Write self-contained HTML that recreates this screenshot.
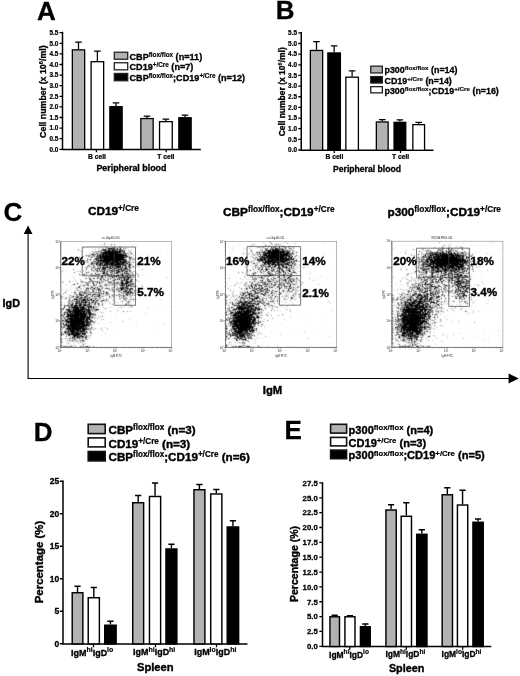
<!DOCTYPE html>
<html><head><meta charset="utf-8"><title>Figure</title>
<style>
html,body{margin:0;padding:0;background:#fff;}
svg{display:block;}
svg text{font-family:"Liberation Sans", sans-serif;font-weight:bold;fill:#000;stroke:#000;stroke-width:0.035em;}
svg tspan{stroke-width:0.035em;}
svg tspan.sp{stroke-width:0.028em;}
svg text.big{stroke-width:0.3px;}
</style></head><body>
<svg width="520" height="676" viewBox="0 0 520 676">
<defs><radialGradient id="gc"><stop offset="0.0" stop-color="#000" stop-opacity="0.96"/><stop offset="0.08" stop-color="#000" stop-opacity="0.93"/><stop offset="0.17" stop-color="#000" stop-opacity="0.846"/><stop offset="0.25" stop-color="#000" stop-opacity="0.722"/><stop offset="0.33" stop-color="#000" stop-opacity="0.578"/><stop offset="0.42" stop-color="#000" stop-opacity="0.434"/><stop offset="0.5" stop-color="#000" stop-opacity="0.304"/><stop offset="0.58" stop-color="#000" stop-opacity="0.199"/><stop offset="0.67" stop-color="#000" stop-opacity="0.121"/><stop offset="0.75" stop-color="#000" stop-opacity="0.066"/><stop offset="0.83" stop-color="#000" stop-opacity="0.032"/><stop offset="0.92" stop-color="#000" stop-opacity="0.011"/><stop offset="1.0" stop-color="#000" stop-opacity="0.0"/></radialGradient><radialGradient id="gd"><stop offset="0.0" stop-color="#000" stop-opacity="0.86"/><stop offset="0.08" stop-color="#000" stop-opacity="0.833"/><stop offset="0.17" stop-color="#000" stop-opacity="0.758"/><stop offset="0.25" stop-color="#000" stop-opacity="0.647"/><stop offset="0.33" stop-color="#000" stop-opacity="0.518"/><stop offset="0.42" stop-color="#000" stop-opacity="0.388"/><stop offset="0.5" stop-color="#000" stop-opacity="0.273"/><stop offset="0.58" stop-color="#000" stop-opacity="0.178"/><stop offset="0.67" stop-color="#000" stop-opacity="0.108"/><stop offset="0.75" stop-color="#000" stop-opacity="0.06"/><stop offset="0.83" stop-color="#000" stop-opacity="0.029"/><stop offset="0.92" stop-color="#000" stop-opacity="0.01"/><stop offset="1.0" stop-color="#000" stop-opacity="0.0"/></radialGradient><radialGradient id="gh"><stop offset="0.0" stop-color="#000" stop-opacity="0.5"/><stop offset="0.08" stop-color="#000" stop-opacity="0.484"/><stop offset="0.17" stop-color="#000" stop-opacity="0.441"/><stop offset="0.25" stop-color="#000" stop-opacity="0.376"/><stop offset="0.33" stop-color="#000" stop-opacity="0.301"/><stop offset="0.42" stop-color="#000" stop-opacity="0.226"/><stop offset="0.5" stop-color="#000" stop-opacity="0.159"/><stop offset="0.58" stop-color="#000" stop-opacity="0.104"/><stop offset="0.67" stop-color="#000" stop-opacity="0.063"/><stop offset="0.75" stop-color="#000" stop-opacity="0.035"/><stop offset="0.83" stop-color="#000" stop-opacity="0.017"/><stop offset="0.92" stop-color="#000" stop-opacity="0.006"/><stop offset="1.0" stop-color="#000" stop-opacity="0.0"/></radialGradient><radialGradient id="gs"><stop offset="0.0" stop-color="#000" stop-opacity="0.31"/><stop offset="0.08" stop-color="#000" stop-opacity="0.3"/><stop offset="0.17" stop-color="#000" stop-opacity="0.273"/><stop offset="0.25" stop-color="#000" stop-opacity="0.233"/><stop offset="0.33" stop-color="#000" stop-opacity="0.187"/><stop offset="0.42" stop-color="#000" stop-opacity="0.14"/><stop offset="0.5" stop-color="#000" stop-opacity="0.098"/><stop offset="0.58" stop-color="#000" stop-opacity="0.064"/><stop offset="0.67" stop-color="#000" stop-opacity="0.039"/><stop offset="0.75" stop-color="#000" stop-opacity="0.021"/><stop offset="0.83" stop-color="#000" stop-opacity="0.01"/><stop offset="0.92" stop-color="#000" stop-opacity="0.004"/><stop offset="1.0" stop-color="#000" stop-opacity="0.0"/></radialGradient><radialGradient id="gw"><stop offset="0.0" stop-color="#000" stop-opacity="0.95"/><stop offset="0.08" stop-color="#000" stop-opacity="0.92"/><stop offset="0.17" stop-color="#000" stop-opacity="0.837"/><stop offset="0.25" stop-color="#000" stop-opacity="0.714"/><stop offset="0.33" stop-color="#000" stop-opacity="0.572"/><stop offset="0.42" stop-color="#000" stop-opacity="0.429"/><stop offset="0.5" stop-color="#000" stop-opacity="0.301"/><stop offset="0.58" stop-color="#000" stop-opacity="0.197"/><stop offset="0.67" stop-color="#000" stop-opacity="0.119"/><stop offset="0.75" stop-color="#000" stop-opacity="0.066"/><stop offset="0.83" stop-color="#000" stop-opacity="0.032"/><stop offset="0.92" stop-color="#000" stop-opacity="0.011"/><stop offset="1.0" stop-color="#000" stop-opacity="0.0"/></radialGradient><radialGradient id="gb"><stop offset="0.0" stop-color="#000" stop-opacity="0.14"/><stop offset="0.08" stop-color="#000" stop-opacity="0.136"/><stop offset="0.17" stop-color="#000" stop-opacity="0.123"/><stop offset="0.25" stop-color="#000" stop-opacity="0.105"/><stop offset="0.33" stop-color="#000" stop-opacity="0.084"/><stop offset="0.42" stop-color="#000" stop-opacity="0.063"/><stop offset="0.5" stop-color="#000" stop-opacity="0.044"/><stop offset="0.58" stop-color="#000" stop-opacity="0.029"/><stop offset="0.67" stop-color="#000" stop-opacity="0.018"/><stop offset="0.75" stop-color="#000" stop-opacity="0.01"/><stop offset="0.83" stop-color="#000" stop-opacity="0.005"/><stop offset="0.92" stop-color="#000" stop-opacity="0.002"/><stop offset="1.0" stop-color="#000" stop-opacity="0.0"/></radialGradient><filter id="dt1" filterUnits="userSpaceOnUse" x="60.55" y="241.05" width="110.90" height="106.10" color-interpolation-filters="sRGB"><feTurbulence type="fractalNoise" baseFrequency="2" numOctaves="1" seed="7" result="n"/><feColorMatrix in="n" type="matrix" values="0 0 0 0 0  0 0 0 0 0  0 0 0 0 0  1 0 0 0 0" result="na"/><feComposite in="SourceGraphic" in2="na" operator="arithmetic" k1="0" k2="1" k3="1" k4="-1" result="c"/><feComponentTransfer in="c"><feFuncA type="linear" slope="5" intercept="0"/></feComponentTransfer><feConvolveMatrix order="3" kernelMatrix="0.0277 0.1110 0.0277 0.1110 0.4452 0.1110 0.0277 0.1110 0.0277" divisor="1" edgeMode="none" preserveAlpha="false"/></filter><filter id="dt2" filterUnits="userSpaceOnUse" x="225.25" y="241.15" width="111.20" height="106.00" color-interpolation-filters="sRGB"><feTurbulence type="fractalNoise" baseFrequency="2" numOctaves="1" seed="12" result="n"/><feColorMatrix in="n" type="matrix" values="0 0 0 0 0  0 0 0 0 0  0 0 0 0 0  1 0 0 0 0" result="na"/><feComposite in="SourceGraphic" in2="na" operator="arithmetic" k1="0" k2="1" k3="1" k4="-1" result="c"/><feComponentTransfer in="c"><feFuncA type="linear" slope="5" intercept="0"/></feComponentTransfer><feConvolveMatrix order="3" kernelMatrix="0.0277 0.1110 0.0277 0.1110 0.4452 0.1110 0.0277 0.1110 0.0277" divisor="1" edgeMode="none" preserveAlpha="false"/></filter><filter id="dt3" filterUnits="userSpaceOnUse" x="391.65" y="240.95" width="111.00" height="106.20" color-interpolation-filters="sRGB"><feTurbulence type="fractalNoise" baseFrequency="2" numOctaves="1" seed="17" result="n"/><feColorMatrix in="n" type="matrix" values="0 0 0 0 0  0 0 0 0 0  0 0 0 0 0  1 0 0 0 0" result="na"/><feComposite in="SourceGraphic" in2="na" operator="arithmetic" k1="0" k2="1" k3="1" k4="-1" result="c"/><feComponentTransfer in="c"><feFuncA type="linear" slope="5" intercept="0"/></feComponentTransfer><feConvolveMatrix order="3" kernelMatrix="0.0277 0.1110 0.0277 0.1110 0.4452 0.1110 0.0277 0.1110 0.0277" divisor="1" edgeMode="none" preserveAlpha="false"/></filter></defs>
<rect width="520" height="676" fill="#fff"/>
<text x="37.1" y="19.6" font-size="26" text-anchor="start" class="big">A</text>
<path d="M62.5 31.85V149.40H200.8" stroke="#000" stroke-width="1.5" fill="none" stroke-linejoin="miter"/>
<path d="M59.5 149.30H62.5M59.5 138.70H62.5M59.5 128.10H62.5M59.5 117.50H62.5M59.5 106.90H62.5M59.5 96.30H62.5M59.5 85.70H62.5M59.5 75.10H62.5M59.5 64.50H62.5M59.5 53.90H62.5M59.5 43.30H62.5M59.5 32.70H62.5M96.4 149.4V152.20000000000002M166.2 149.4V152.20000000000002" stroke="#000" stroke-width="1.27" fill="none"/>
<text x="58.3" y="151.6" font-size="6.4" text-anchor="end" >0.0</text>
<text x="58.3" y="141.0" font-size="6.4" text-anchor="end" >0.5</text>
<text x="58.3" y="130.4" font-size="6.4" text-anchor="end" >1.0</text>
<text x="58.3" y="119.8" font-size="6.4" text-anchor="end" >1.5</text>
<text x="58.3" y="109.2" font-size="6.4" text-anchor="end" >2.0</text>
<text x="58.3" y="98.6" font-size="6.4" text-anchor="end" >2.5</text>
<text x="58.3" y="88.0" font-size="6.4" text-anchor="end" >3.0</text>
<text x="58.3" y="77.4" font-size="6.4" text-anchor="end" >3.5</text>
<text x="58.3" y="66.8" font-size="6.4" text-anchor="end" >4.0</text>
<text x="58.3" y="56.2" font-size="6.4" text-anchor="end" >4.5</text>
<text x="58.3" y="45.6" font-size="6.4" text-anchor="end" >5.0</text>
<text x="58.3" y="35.0" font-size="6.4" text-anchor="end" >5.5</text>
<path d="M78.50 49.20V42.05M75.20 42.05H81.80" stroke="#000" stroke-width="1.25" fill="none"/>
<rect x="72.35" y="49.85" width="12.30" height="99.55" fill="#b2b2b2" stroke="#000" stroke-width="1.3"/>
<path d="M97.38 61.05V51.05M94.08 51.05H100.67" stroke="#000" stroke-width="1.25" fill="none"/>
<rect x="91.10" y="61.70" width="12.55" height="87.70" fill="#fff" stroke="#000" stroke-width="1.3"/>
<path d="M116.00 106.05V102.80M112.70 102.80H119.30" stroke="#000" stroke-width="1.25" fill="none"/>
<rect x="109.85" y="106.70" width="12.30" height="42.70" fill="#000" stroke="#000" stroke-width="1.3"/>
<path d="M147.00 117.90V116.10M143.70 116.10H150.30" stroke="#000" stroke-width="1.25" fill="none"/>
<rect x="140.85" y="118.55" width="12.30" height="30.85" fill="#b2b2b2" stroke="#000" stroke-width="1.3"/>
<path d="M165.90 121.00V119.10M162.60 119.10H169.20" stroke="#000" stroke-width="1.25" fill="none"/>
<rect x="159.55" y="121.65" width="12.70" height="27.75" fill="#fff" stroke="#000" stroke-width="1.3"/>
<path d="M185.00 117.10V115.00M181.70 115.00H188.30" stroke="#000" stroke-width="1.25" fill="none"/>
<rect x="178.85" y="117.75" width="12.30" height="31.65" fill="#000" stroke="#000" stroke-width="1.3"/>
<text x="97" y="158.9" font-size="6.7" text-anchor="middle" >B cell</text>
<text x="165.9" y="158.9" font-size="6.7" text-anchor="middle" >T cell</text>
<text x="131.4" y="171.3" font-size="8.9" text-anchor="middle" >Peripheral blood</text>
<text transform="translate(46.4 91.6) rotate(-90)" text-anchor="middle" font-size="8.85"><tspan dy="0.00" font-size="8.85">Cell number (x 10</tspan><tspan class="sp" dy="-2.92" font-size="5.75">6</tspan><tspan dy="2.92" font-size="8.85">/ml)</tspan></text>
<rect x="114.3" y="52.25" width="13.4" height="7.00" fill="#b2b2b2" stroke="#222" stroke-width="1.3"/>
<rect x="114.3" y="62.75" width="13.4" height="7.10" fill="#fff" stroke="#222" stroke-width="1.3"/>
<rect x="114.3" y="73.45" width="13.4" height="7.30" fill="#000" stroke="#222" stroke-width="1.3"/>
<text x="129.5" y="59.6"><tspan dy="0.00" font-size="9.1">CBP</tspan><tspan class="sp" dy="-3.00" font-size="6.37">flox/flox</tspan><tspan dy="3.00" font-size="9.1"> (n=11)</tspan></text>
<text x="129.5" y="70.3"><tspan dy="0.00" font-size="9.1">CD19</tspan><tspan class="sp" dy="-3.00" font-size="6.37">+/Cre</tspan><tspan dy="3.00" font-size="9.1"> (n=7)</tspan></text>
<text x="129.5" y="80.6"><tspan dy="0.00" font-size="9.1">CBP</tspan><tspan class="sp" dy="-3.00" font-size="6.37">flox/flox</tspan><tspan dy="3.00" font-size="9.1">;CD19</tspan><tspan class="sp" dy="-3.00" font-size="6.37">+/Cre</tspan><tspan dy="3.00" font-size="9.1"> (n=12)</tspan></text>
<text x="275.7" y="18.6" font-size="26" text-anchor="start" class="big">B</text>
<path d="M301.25 32.05V150.30H433.5" stroke="#000" stroke-width="1.5" fill="none" stroke-linejoin="miter"/>
<path d="M298.25 150.00H301.25M298.25 139.35H301.25M298.25 128.70H301.25M298.25 118.05H301.25M298.25 107.40H301.25M298.25 96.75H301.25M298.25 86.10H301.25M298.25 75.45H301.25M298.25 64.80H301.25M298.25 54.15H301.25M298.25 43.50H301.25M298.25 32.85H301.25M334.25 150.3V153.10000000000002M400.5 150.3V153.10000000000002" stroke="#000" stroke-width="1.27" fill="none"/>
<text x="297" y="152.3" font-size="6.4" text-anchor="end" >0.0</text>
<text x="297" y="141.65" font-size="6.4" text-anchor="end" >0.5</text>
<text x="297" y="131.0" font-size="6.4" text-anchor="end" >1.0</text>
<text x="297" y="120.35" font-size="6.4" text-anchor="end" >1.5</text>
<text x="297" y="109.7" font-size="6.4" text-anchor="end" >2.0</text>
<text x="297" y="99.05" font-size="6.4" text-anchor="end" >2.5</text>
<text x="297" y="88.4" font-size="6.4" text-anchor="end" >3.0</text>
<text x="297" y="77.75" font-size="6.4" text-anchor="end" >3.5</text>
<text x="297" y="67.1" font-size="6.4" text-anchor="end" >4.0</text>
<text x="297" y="56.45" font-size="6.4" text-anchor="end" >4.5</text>
<text x="297" y="45.8" font-size="6.4" text-anchor="end" >5.0</text>
<text x="297" y="35.15" font-size="6.4" text-anchor="end" >5.5</text>
<path d="M316.50 49.80V41.55M313.20 41.55H319.80" stroke="#000" stroke-width="1.25" fill="none"/>
<rect x="310.35" y="50.45" width="12.30" height="99.85" fill="#b2b2b2" stroke="#000" stroke-width="1.3"/>
<path d="M334.12 52.30V45.80M330.82 45.80H337.43" stroke="#000" stroke-width="1.25" fill="none"/>
<rect x="327.85" y="52.95" width="12.55" height="97.35" fill="#000" stroke="#000" stroke-width="1.3"/>
<path d="M352.12 76.55V70.80M348.82 70.80H355.43" stroke="#000" stroke-width="1.25" fill="none"/>
<rect x="345.85" y="77.20" width="12.55" height="73.10" fill="#fff" stroke="#000" stroke-width="1.3"/>
<path d="M382.25 121.30V119.60M378.95 119.60H385.55" stroke="#000" stroke-width="1.25" fill="none"/>
<rect x="376.35" y="121.95" width="11.80" height="28.35" fill="#b2b2b2" stroke="#000" stroke-width="1.3"/>
<path d="M399.90 121.70V119.90M396.60 119.90H403.20" stroke="#000" stroke-width="1.25" fill="none"/>
<rect x="394.05" y="122.35" width="11.70" height="27.95" fill="#000" stroke="#000" stroke-width="1.3"/>
<path d="M418.70 124.00V122.30M415.40 122.30H422.00" stroke="#000" stroke-width="1.25" fill="none"/>
<rect x="412.85" y="124.65" width="11.70" height="25.65" fill="#fff" stroke="#000" stroke-width="1.3"/>
<text x="334.4" y="159.2" font-size="6.7" text-anchor="middle" >B cell</text>
<text x="400.6" y="158.9" font-size="6.7" text-anchor="middle" >T cell</text>
<text x="367" y="171.75" font-size="8.6" text-anchor="middle" >Peripheral blood</text>
<text transform="translate(285.2 91.75) rotate(-90)" text-anchor="middle" font-size="8.5"><tspan dy="0.00" font-size="8.5">Cell number (x 10</tspan><tspan class="sp" dy="-2.81" font-size="5.53">6</tspan><tspan dy="2.81" font-size="8.5">/ml)</tspan></text>
<rect x="370.75" y="66.15" width="11.6" height="6.80" fill="#b2b2b2" stroke="#222" stroke-width="1.3"/>
<rect x="370.75" y="76.55000000000001" width="11.6" height="6.50" fill="#000" stroke="#222" stroke-width="1.3"/>
<rect x="370.75" y="86.65" width="11.6" height="6.20" fill="#fff" stroke="#222" stroke-width="1.3"/>
<text x="384.5" y="73.2"><tspan dy="0.00" font-size="8.9">p300</tspan><tspan class="sp" dy="-2.94" font-size="6.23">flox/flox</tspan><tspan dy="2.94" font-size="8.9"> (n=14)</tspan></text>
<text x="384.5" y="83.8"><tspan dy="0.00" font-size="8.9">CD19</tspan><tspan class="sp" dy="-2.94" font-size="6.23">+/Cre</tspan><tspan dy="2.94" font-size="8.9"> (n=14)</tspan></text>
<text x="384.5" y="93.6"><tspan dy="0.00" font-size="8.9">p300</tspan><tspan class="sp" dy="-2.94" font-size="6.23">flox/flox</tspan><tspan dy="2.94" font-size="8.9">;CD19</tspan><tspan class="sp" dy="-2.94" font-size="6.23">+/Cre</tspan><tspan dy="2.94" font-size="8.9"> (n=16)</tspan></text>
<text x="3.5" y="220.7" font-size="26" text-anchor="start" class="big">C</text>
<path d="M28.1 233V378.5H509.5" stroke="#000" stroke-width="1.1" fill="none"/>
<path d="M28.1 225.6L32.5 234H23.7Z" fill="#000"/>
<path d="M518.8 378.6L508.6 373.6V383.6Z" fill="#000"/>
<text x="2.6" y="306.5" font-size="10.8" text-anchor="start" >IgD</text>
<text x="262.8" y="393.75" font-size="11.3" text-anchor="start" >IgM</text>
<text x="113.4" y="215" text-anchor="middle"><tspan dy="0.00" font-size="11.8">CD19</tspan><tspan class="sp" dy="-3.60" font-size="8.26">+/Cre</tspan></text>
<text x="278.8" y="215.6" text-anchor="middle"><tspan dy="0.00" font-size="11.8">CBP</tspan><tspan class="sp" dy="-3.60" font-size="8.26">flox/flox</tspan><tspan dy="3.60" font-size="11.8">;CD19</tspan><tspan class="sp" dy="-3.60" font-size="8.26">+/Cre</tspan></text>
<text x="444.2" y="215.6" text-anchor="middle"><tspan dy="0.00" font-size="11.8">p300</tspan><tspan class="sp" dy="-3.60" font-size="8.26">flox/flox</tspan><tspan dy="3.60" font-size="11.8">;CD19</tspan><tspan class="sp" dy="-3.60" font-size="8.26">+/Cre</tspan></text>
<g transform="translate(.25 .25)"><g filter="url(#dt1)"><g transform="translate(-.25 -.25)">
<rect x="60.8" y="241.3" width="110.90" height="106.10" fill="#000" fill-opacity="0.2"/>
<ellipse cx="100" cy="292" rx="102.0" ry="90.0" fill="url(#gb)"/>
<ellipse cx="112" cy="257" rx="27.0" ry="16.5" fill="url(#gc)"/>
<ellipse cx="110" cy="260" rx="51.0" ry="30.0" fill="url(#gh)"/>
<ellipse cx="127" cy="284" rx="21.0" ry="42.0" fill="url(#gh)" transform="rotate(-8 127 284)"/>
<ellipse cx="77" cy="322.5" rx="22.5" ry="34.5" fill="url(#gd)" transform="rotate(8 77 322.5)"/>
<ellipse cx="78.5" cy="318.5" rx="37.5" ry="52.5" fill="url(#gh)" transform="rotate(10 78.5 318.5)"/>
<ellipse cx="98" cy="289" rx="54.0" ry="42.0" fill="url(#gs)" transform="rotate(-35 98 289)"/>
<rect x="60.8" y="295" width="1.2" height="52" fill="#000" fill-opacity="0.35"/>
<rect x="60.8" y="346.1" width="35" height="1.3" fill="#000" fill-opacity="0.35"/>
</g></g></g>
<rect x="60.8" y="241.3" width="110.90" height="106.10" fill="none" stroke="#8a8a8a" stroke-width="0.6"/>
<path d="M82.2 247H135.5V305.3H114.2V247M82.2 247V275.8H135.5" fill="none" stroke="#444" stroke-width="0.7"/>
<text x="61.4" y="265.0" font-size="11.7" text-anchor="start" >22%</text>
<text x="137.3" y="265.0" font-size="11.7" text-anchor="start" >21%</text>
<text x="137.3" y="296.4" font-size="11.7" text-anchor="start" >5.7%</text>
<g style="font-weight:normal" fill="#555">
<text x="110.7" y="239.3" font-size="2.6" text-anchor="middle" style="font-weight:normal;fill:#222;stroke:none">sr+14igd05.010</text>
<text x="116.2" y="356.6" font-size="2.8" text-anchor="middle" style="font-weight:normal;fill:#222;stroke:none">IgM FITC</text>
<text transform="translate(54.3 294.4) rotate(-90)" text-anchor="middle" font-size="2.6" style="font-weight:normal;fill:#222;stroke:none">IgD PE</text>
<text x="59.6"  y="352.0" text-anchor="middle" font-size="2.9" style="font-weight:normal;fill:#222;stroke:none">10<tspan dy="-1.2" font-size="1.9">0</tspan></text>
<text x="57.4"  y="348.6" text-anchor="middle" font-size="2.9" style="font-weight:normal;fill:#222;stroke:none">10<tspan dy="-1.2" font-size="1.9">0</tspan></text>
<text x="87.3"  y="352.0" text-anchor="middle" font-size="2.9" style="font-weight:normal;fill:#222;stroke:none">10<tspan dy="-1.2" font-size="1.9">1</tspan></text>
<text x="57.4"  y="322.1" text-anchor="middle" font-size="2.9" style="font-weight:normal;fill:#222;stroke:none">10<tspan dy="-1.2" font-size="1.9">1</tspan></text>
<text x="115.0"  y="352.0" text-anchor="middle" font-size="2.9" style="font-weight:normal;fill:#222;stroke:none">10<tspan dy="-1.2" font-size="1.9">2</tspan></text>
<text x="57.4"  y="295.6" text-anchor="middle" font-size="2.9" style="font-weight:normal;fill:#222;stroke:none">10<tspan dy="-1.2" font-size="1.9">2</tspan></text>
<text x="142.8"  y="352.0" text-anchor="middle" font-size="2.9" style="font-weight:normal;fill:#222;stroke:none">10<tspan dy="-1.2" font-size="1.9">3</tspan></text>
<text x="57.4"  y="269.0" text-anchor="middle" font-size="2.9" style="font-weight:normal;fill:#222;stroke:none">10<tspan dy="-1.2" font-size="1.9">3</tspan></text>
<text x="170.5"  y="352.0" text-anchor="middle" font-size="2.9" style="font-weight:normal;fill:#222;stroke:none">10<tspan dy="-1.2" font-size="1.9">4</tspan></text>
<text x="57.4"  y="242.5" text-anchor="middle" font-size="2.9" style="font-weight:normal;fill:#222;stroke:none">10<tspan dy="-1.2" font-size="1.9">4</tspan></text>
</g>
<path d="M60.8 347.4v1.6M60.8 347.4h-1.6M69.1 347.4v.9M60.8 339.4h-.9M74.0 347.4v.9M60.8 334.7h-.9M77.5 347.4v.9M60.8 331.4h-.9M80.2 347.4v.9M60.8 328.9h-.9M82.4 347.4v.9M60.8 326.8h-.9M84.2 347.4v.9M60.8 325.0h-.9M85.8 347.4v.9M60.8 323.4h-.9M87.3 347.4v.9M60.8 322.1h-.9M88.5 347.4v1.6M60.8 320.9h-1.6M96.9 347.4v.9M60.8 312.9h-.9M101.8 347.4v.9M60.8 308.2h-.9M105.2 347.4v.9M60.8 304.9h-.9M107.9 347.4v.9M60.8 302.3h-.9M110.1 347.4v.9M60.8 300.2h-.9M112.0 347.4v.9M60.8 298.5h-.9M113.6 347.4v.9M60.8 296.9h-.9M115.0 347.4v.9M60.8 295.6h-.9M116.2 347.4v1.6M60.8 294.4h-1.6M124.6 347.4v.9M60.8 286.4h-.9M129.5 347.4v.9M60.8 281.7h-.9M132.9 347.4v.9M60.8 278.4h-.9M135.6 347.4v.9M60.8 275.8h-.9M137.8 347.4v.9M60.8 273.7h-.9M139.7 347.4v.9M60.8 271.9h-.9M141.3 347.4v.9M60.8 270.4h-.9M142.7 347.4v.9M60.8 269.0h-.9M144.0 347.4v1.6M60.8 267.8h-1.6M152.3 347.4v.9M60.8 259.8h-.9M157.2 347.4v.9M60.8 255.2h-.9M160.7 347.4v.9M60.8 251.9h-.9M163.4 347.4v.9M60.8 249.3h-.9M165.5 347.4v.9M60.8 247.2h-.9M167.4 347.4v.9M60.8 245.4h-.9M169.0 347.4v.9M60.8 243.9h-.9M170.4 347.4v.9M60.8 242.5h-.9M171.7 347.4v1.6M60.8 241.3h-1.6" stroke="#444" stroke-width="0.45" fill="none"/>
<path d="M60.8 241.3V347.4H171.7" stroke="#555" stroke-width="0.6" fill="none"/>
<g transform="translate(.25 .25)"><g filter="url(#dt2)"><g transform="translate(-.25 -.25)">
<rect x="225.5" y="241.4" width="111.20" height="106.00" fill="#000" fill-opacity="0.2"/>
<ellipse cx="265" cy="292" rx="102.0" ry="90.0" fill="url(#gb)"/>
<ellipse cx="277.5" cy="256" rx="27.0" ry="15.6" fill="url(#gd)"/>
<ellipse cx="274" cy="259" rx="51.0" ry="30.0" fill="url(#gh)"/>
<ellipse cx="291" cy="284" rx="21.0" ry="42.0" fill="url(#gs)" transform="rotate(-8 291 284)"/>
<ellipse cx="243" cy="322.5" rx="22.5" ry="34.5" fill="url(#gd)" transform="rotate(8 243 322.5)"/>
<ellipse cx="244.5" cy="318.5" rx="37.5" ry="52.5" fill="url(#gh)" transform="rotate(10 244.5 318.5)"/>
<ellipse cx="264" cy="289" rx="54.0" ry="42.0" fill="url(#gs)" transform="rotate(-35 264 289)"/>
<rect x="225.5" y="295" width="1.2" height="52" fill="#000" fill-opacity="0.35"/>
<rect x="225.5" y="346.1" width="35" height="1.3" fill="#000" fill-opacity="0.35"/>
</g></g></g>
<rect x="225.5" y="241.4" width="111.20" height="106.00" fill="none" stroke="#8a8a8a" stroke-width="0.6"/>
<path d="M247 246.6H300.6V305.2H279.4V246.6M247 246.6V275.6H300.6" fill="none" stroke="#444" stroke-width="0.7"/>
<text x="226.1" y="264.8" font-size="11.7" text-anchor="start" >16%</text>
<text x="302.3" y="264.8" font-size="11.7" text-anchor="start" >14%</text>
<text x="302.3" y="296.5" font-size="11.7" text-anchor="start" >2.1%</text>
<g style="font-weight:normal" fill="#555">
<text x="275.5" y="239.4" font-size="2.6" text-anchor="middle" style="font-weight:normal;fill:#222;stroke:none">sr+14igd05.011</text>
<text x="281.1" y="356.6" font-size="2.8" text-anchor="middle" style="font-weight:normal;fill:#222;stroke:none">IgM FITC</text>
<text transform="translate(219.0 294.4) rotate(-90)" text-anchor="middle" font-size="2.6" style="font-weight:normal;fill:#222;stroke:none">IgD PE</text>
<text x="224.3"  y="352.0" text-anchor="middle" font-size="2.9" style="font-weight:normal;fill:#222;stroke:none">10<tspan dy="-1.2" font-size="1.9">0</tspan></text>
<text x="222.1"  y="348.6" text-anchor="middle" font-size="2.9" style="font-weight:normal;fill:#222;stroke:none">10<tspan dy="-1.2" font-size="1.9">0</tspan></text>
<text x="252.1"  y="352.0" text-anchor="middle" font-size="2.9" style="font-weight:normal;fill:#222;stroke:none">10<tspan dy="-1.2" font-size="1.9">1</tspan></text>
<text x="222.1"  y="322.1" text-anchor="middle" font-size="2.9" style="font-weight:normal;fill:#222;stroke:none">10<tspan dy="-1.2" font-size="1.9">1</tspan></text>
<text x="279.9"  y="352.0" text-anchor="middle" font-size="2.9" style="font-weight:normal;fill:#222;stroke:none">10<tspan dy="-1.2" font-size="1.9">2</tspan></text>
<text x="222.1"  y="295.6" text-anchor="middle" font-size="2.9" style="font-weight:normal;fill:#222;stroke:none">10<tspan dy="-1.2" font-size="1.9">2</tspan></text>
<text x="307.7"  y="352.0" text-anchor="middle" font-size="2.9" style="font-weight:normal;fill:#222;stroke:none">10<tspan dy="-1.2" font-size="1.9">3</tspan></text>
<text x="222.1"  y="269.1" text-anchor="middle" font-size="2.9" style="font-weight:normal;fill:#222;stroke:none">10<tspan dy="-1.2" font-size="1.9">3</tspan></text>
<text x="335.5"  y="352.0" text-anchor="middle" font-size="2.9" style="font-weight:normal;fill:#222;stroke:none">10<tspan dy="-1.2" font-size="1.9">4</tspan></text>
<text x="222.1"  y="242.6" text-anchor="middle" font-size="2.9" style="font-weight:normal;fill:#222;stroke:none">10<tspan dy="-1.2" font-size="1.9">4</tspan></text>
</g>
<path d="M225.5 347.4v1.6M225.5 347.4h-1.6M233.9 347.4v.9M225.5 339.4h-.9M238.8 347.4v.9M225.5 334.8h-.9M242.2 347.4v.9M225.5 331.4h-.9M244.9 347.4v.9M225.5 328.9h-.9M247.1 347.4v.9M225.5 326.8h-.9M249.0 347.4v.9M225.5 325.0h-.9M250.6 347.4v.9M225.5 323.5h-.9M252.0 347.4v.9M225.5 322.1h-.9M253.3 347.4v1.6M225.5 320.9h-1.6M261.7 347.4v.9M225.5 312.9h-.9M266.6 347.4v.9M225.5 308.3h-.9M270.0 347.4v.9M225.5 304.9h-.9M272.7 347.4v.9M225.5 302.4h-.9M274.9 347.4v.9M225.5 300.3h-.9M276.8 347.4v.9M225.5 298.5h-.9M278.4 347.4v.9M225.5 297.0h-.9M279.8 347.4v.9M225.5 295.6h-.9M281.1 347.4v1.6M225.5 294.4h-1.6M289.5 347.4v.9M225.5 286.4h-.9M294.4 347.4v.9M225.5 281.8h-.9M297.8 347.4v.9M225.5 278.4h-.9M300.5 347.4v.9M225.5 275.9h-.9M302.7 347.4v.9M225.5 273.8h-.9M304.6 347.4v.9M225.5 272.0h-.9M306.2 347.4v.9M225.5 270.5h-.9M307.6 347.4v.9M225.5 269.1h-.9M308.9 347.4v1.6M225.5 267.9h-1.6M317.3 347.4v.9M225.5 259.9h-.9M322.2 347.4v.9M225.5 255.3h-.9M325.6 347.4v.9M225.5 251.9h-.9M328.3 347.4v.9M225.5 249.4h-.9M330.5 347.4v.9M225.5 247.3h-.9M332.4 347.4v.9M225.5 245.5h-.9M334.0 347.4v.9M225.5 244.0h-.9M335.4 347.4v.9M225.5 242.6h-.9M336.7 347.4v1.6M225.5 241.4h-1.6" stroke="#444" stroke-width="0.45" fill="none"/>
<path d="M225.5 241.4V347.4H336.7" stroke="#555" stroke-width="0.6" fill="none"/>
<g transform="translate(.25 .25)"><g filter="url(#dt3)"><g transform="translate(-.25 -.25)">
<rect x="391.9" y="241.2" width="111.00" height="106.20" fill="#000" fill-opacity="0.2"/>
<ellipse cx="432" cy="292" rx="102.0" ry="90.0" fill="url(#gb)"/>
<ellipse cx="447" cy="260.5" rx="40.5" ry="16.8" fill="url(#gw)"/>
<ellipse cx="442" cy="262" rx="60.0" ry="30.0" fill="url(#gh)"/>
<ellipse cx="462" cy="286" rx="21.0" ry="42.0" fill="url(#gh)" transform="rotate(-8 462 286)"/>
<ellipse cx="412" cy="322" rx="25.5" ry="39.0" fill="url(#gd)" transform="rotate(12 412 322)"/>
<ellipse cx="414.5" cy="318" rx="42.0" ry="57.0" fill="url(#gh)" transform="rotate(16 414.5 318)"/>
<ellipse cx="432" cy="291" rx="54.0" ry="42.0" fill="url(#gs)" transform="rotate(-35 432 291)"/>
<rect x="391.9" y="295" width="1.2" height="52" fill="#000" fill-opacity="0.35"/>
<rect x="391.9" y="346.1" width="38" height="1.3" fill="#000" fill-opacity="0.4"/>
</g></g></g>
<rect x="391.9" y="241.2" width="111.00" height="106.20" fill="none" stroke="#8a8a8a" stroke-width="0.6"/>
<path d="M416.5 248.2H469.4V306.4H448.8V248.2M416.5 248.2V277.2H469.4" fill="none" stroke="#444" stroke-width="0.7"/>
<text x="393.2" y="264.9" font-size="11.7" text-anchor="start" >20%</text>
<text x="470.6" y="264.9" font-size="11.7" text-anchor="start" >18%</text>
<text x="470.6" y="296.3" font-size="11.7" text-anchor="start" >3.4%</text>
<g style="font-weight:normal" fill="#555">
<text x="441.8" y="239.2" font-size="2.6" text-anchor="middle" style="font-weight:normal;fill:#222;stroke:none">WX25A.PR05.010</text>
<text x="447.4" y="356.6" font-size="2.8" text-anchor="middle" style="font-weight:normal;fill:#222;stroke:none">IgM FITC</text>
<text transform="translate(385.4 294.3) rotate(-90)" text-anchor="middle" font-size="2.6" style="font-weight:normal;fill:#222;stroke:none">IgD PE</text>
<text x="390.7"  y="352.0" text-anchor="middle" font-size="2.9" style="font-weight:normal;fill:#222;stroke:none">10<tspan dy="-1.2" font-size="1.9">0</tspan></text>
<text x="388.5"  y="348.6" text-anchor="middle" font-size="2.9" style="font-weight:normal;fill:#222;stroke:none">10<tspan dy="-1.2" font-size="1.9">0</tspan></text>
<text x="418.4"  y="352.0" text-anchor="middle" font-size="2.9" style="font-weight:normal;fill:#222;stroke:none">10<tspan dy="-1.2" font-size="1.9">1</tspan></text>
<text x="388.5"  y="322.0" text-anchor="middle" font-size="2.9" style="font-weight:normal;fill:#222;stroke:none">10<tspan dy="-1.2" font-size="1.9">1</tspan></text>
<text x="446.2"  y="352.0" text-anchor="middle" font-size="2.9" style="font-weight:normal;fill:#222;stroke:none">10<tspan dy="-1.2" font-size="1.9">2</tspan></text>
<text x="388.5"  y="295.5" text-anchor="middle" font-size="2.9" style="font-weight:normal;fill:#222;stroke:none">10<tspan dy="-1.2" font-size="1.9">2</tspan></text>
<text x="473.9"  y="352.0" text-anchor="middle" font-size="2.9" style="font-weight:normal;fill:#222;stroke:none">10<tspan dy="-1.2" font-size="1.9">3</tspan></text>
<text x="388.5"  y="268.9" text-anchor="middle" font-size="2.9" style="font-weight:normal;fill:#222;stroke:none">10<tspan dy="-1.2" font-size="1.9">3</tspan></text>
<text x="501.7"  y="352.0" text-anchor="middle" font-size="2.9" style="font-weight:normal;fill:#222;stroke:none">10<tspan dy="-1.2" font-size="1.9">4</tspan></text>
<text x="388.5"  y="242.4" text-anchor="middle" font-size="2.9" style="font-weight:normal;fill:#222;stroke:none">10<tspan dy="-1.2" font-size="1.9">4</tspan></text>
</g>
<path d="M391.9 347.4v1.6M391.9 347.4h-1.6M400.3 347.4v.9M391.9 339.4h-.9M405.1 347.4v.9M391.9 334.7h-.9M408.6 347.4v.9M391.9 331.4h-.9M411.3 347.4v.9M391.9 328.8h-.9M413.5 347.4v.9M391.9 326.7h-.9M415.4 347.4v.9M391.9 325.0h-.9M417.0 347.4v.9M391.9 323.4h-.9M418.4 347.4v.9M391.9 322.1h-.9M419.6 347.4v1.6M391.9 320.8h-1.6M428.0 347.4v.9M391.9 312.9h-.9M432.9 347.4v.9M391.9 308.2h-.9M436.4 347.4v.9M391.9 304.9h-.9M439.0 347.4v.9M391.9 302.3h-.9M441.2 347.4v.9M391.9 300.2h-.9M443.1 347.4v.9M391.9 298.4h-.9M444.7 347.4v.9M391.9 296.9h-.9M446.1 347.4v.9M391.9 295.5h-.9M447.4 347.4v1.6M391.9 294.3h-1.6M455.8 347.4v.9M391.9 286.3h-.9M460.6 347.4v.9M391.9 281.6h-.9M464.1 347.4v.9M391.9 278.3h-.9M466.8 347.4v.9M391.9 275.7h-.9M469.0 347.4v.9M391.9 273.6h-.9M470.9 347.4v.9M391.9 271.9h-.9M472.5 347.4v.9M391.9 270.3h-.9M473.9 347.4v.9M391.9 269.0h-.9M475.1 347.4v1.6M391.9 267.8h-1.6M483.5 347.4v.9M391.9 259.8h-.9M488.4 347.4v.9M391.9 255.1h-.9M491.9 347.4v.9M391.9 251.8h-.9M494.5 347.4v.9M391.9 249.2h-.9M496.7 347.4v.9M391.9 247.1h-.9M498.6 347.4v.9M391.9 245.3h-.9M500.2 347.4v.9M391.9 243.8h-.9M501.6 347.4v.9M391.9 242.4h-.9M502.9 347.4v1.6M391.9 241.2h-1.6" stroke="#444" stroke-width="0.45" fill="none"/>
<path d="M391.9 241.2V347.4H502.9" stroke="#555" stroke-width="0.6" fill="none"/>
<text x="33.8" y="440.8" font-size="26" text-anchor="start" class="big">D</text>
<rect x="88.2" y="424.3" width="17" height="9.30" fill="#b2b2b2" stroke="#111" stroke-width="1.6"/>
<rect x="88.2" y="437.90000000000003" width="17" height="9.00" fill="#fff" stroke="#111" stroke-width="1.6"/>
<rect x="88.2" y="451.5" width="17" height="9.40" fill="#000" stroke="#111" stroke-width="1.6"/>
<text x="108.5" y="434.25"><tspan dy="0.00" font-size="11.65">CBP</tspan><tspan class="sp" dy="-3.84" font-size="8.15">flox/flox</tspan><tspan dy="3.84" font-size="11.65"> (n=3)</tspan></text>
<text x="108.5" y="447.75"><tspan dy="0.00" font-size="11.65">CD19</tspan><tspan class="sp" dy="-3.84" font-size="8.15">+/Cre</tspan><tspan dy="3.84" font-size="11.65"> (n=3)</tspan></text>
<text x="108.5" y="461.25"><tspan dy="0.00" font-size="11.65">CBP</tspan><tspan class="sp" dy="-3.84" font-size="8.15">flox/flox</tspan><tspan dy="3.84" font-size="11.65">;CD19</tspan><tspan class="sp" dy="-3.84" font-size="8.15">+/Cre</tspan><tspan dy="3.84" font-size="11.65"> (n=6)</tspan></text>
<path d="M63 480.50V643.90H247.5" stroke="#000" stroke-width="1.5" fill="none" stroke-linejoin="miter"/>
<path d="M59.8 643.75H63M59.8 611.25H63M59.8 578.75H63M59.8 546.25H63M59.8 513.75H63M59.8 481.25H63M93.5 643.9V647.1999999999999M155.5 643.9V647.1999999999999M216.5 643.9V647.1999999999999" stroke="#000" stroke-width="1.27" fill="none"/>
<text x="59.3" y="646.81" font-size="8.5" text-anchor="end" >0</text>
<text x="59.3" y="614.31" font-size="8.5" text-anchor="end" >5</text>
<text x="59.3" y="581.81" font-size="8.5" text-anchor="end" >10</text>
<text x="59.3" y="549.31" font-size="8.5" text-anchor="end" >15</text>
<text x="59.3" y="516.81" font-size="8.5" text-anchor="end" >20</text>
<text x="59.3" y="484.31" font-size="8.5" text-anchor="end" >25</text>
<path d="M77.55 592.00V586.25M74.45 586.25H80.65" stroke="#000" stroke-width="1.4" fill="none"/>
<rect x="72.22" y="592.73" width="10.65" height="51.17" fill="#b2b2b2" stroke="#000" stroke-width="1.45"/>
<path d="M93.80 597.00V587.50M90.70 587.50H96.90" stroke="#000" stroke-width="1.4" fill="none"/>
<rect x="88.22" y="597.73" width="11.15" height="46.17" fill="#fff" stroke="#000" stroke-width="1.45"/>
<path d="M110.42 624.50V621.25M107.33 621.25H113.52" stroke="#000" stroke-width="1.4" fill="none"/>
<rect x="104.72" y="625.23" width="11.40" height="18.67" fill="#000" stroke="#000" stroke-width="1.45"/>
<path d="M138.18 502.00V495.50M135.08 495.50H141.28" stroke="#000" stroke-width="1.4" fill="none"/>
<rect x="132.72" y="502.73" width="10.90" height="141.17" fill="#b2b2b2" stroke="#000" stroke-width="1.45"/>
<path d="M155.05 495.75V483.00M151.95 483.00H158.15" stroke="#000" stroke-width="1.4" fill="none"/>
<rect x="149.47" y="496.48" width="11.15" height="147.42" fill="#fff" stroke="#000" stroke-width="1.45"/>
<path d="M171.43 548.25V544.25M168.33 544.25H174.53" stroke="#000" stroke-width="1.4" fill="none"/>
<rect x="165.97" y="548.98" width="10.90" height="94.92" fill="#000" stroke="#000" stroke-width="1.45"/>
<path d="M199.43 489.00V484.50M196.33 484.50H202.53" stroke="#000" stroke-width="1.4" fill="none"/>
<rect x="193.97" y="489.73" width="10.90" height="154.17" fill="#b2b2b2" stroke="#000" stroke-width="1.45"/>
<path d="M216.30 493.25V489.50M213.20 489.50H219.40" stroke="#000" stroke-width="1.4" fill="none"/>
<rect x="210.72" y="493.98" width="11.15" height="149.92" fill="#fff" stroke="#000" stroke-width="1.45"/>
<path d="M232.93 526.25V520.75M229.83 520.75H236.03" stroke="#000" stroke-width="1.4" fill="none"/>
<rect x="227.22" y="526.98" width="11.40" height="116.92" fill="#000" stroke="#000" stroke-width="1.45"/>
<text x="92.2" y="655.6" text-anchor="middle"><tspan dy="0.00" font-size="8.95">IgM</tspan><tspan class="sp" dy="-3.85" font-size="6.98">hi</tspan><tspan dy="3.85" font-size="8.95">IgD</tspan><tspan class="sp" dy="-3.85" font-size="6.98">lo</tspan></text>
<text x="154.2" y="655.4" text-anchor="middle"><tspan dy="0.00" font-size="8.95">IgM</tspan><tspan class="sp" dy="-3.85" font-size="6.98">hi</tspan><tspan dy="3.85" font-size="8.95">IgD</tspan><tspan class="sp" dy="-3.85" font-size="6.98">hi</tspan></text>
<text x="215.3" y="655.4" text-anchor="middle"><tspan dy="0.00" font-size="8.95">IgM</tspan><tspan class="sp" dy="-3.85" font-size="6.98">lo</tspan><tspan dy="3.85" font-size="8.95">IgD</tspan><tspan class="sp" dy="-3.85" font-size="6.98">hi</tspan></text>
<text x="155.3" y="670.75" font-size="11.2" text-anchor="middle" >Spleen</text>
<text transform="translate(42.6 562) rotate(-90)" text-anchor="middle" font-size="11.45">Percentage (%)</text>
<text x="284.4" y="438.6" font-size="26" text-anchor="start" class="big">E</text>
<rect x="330.6" y="424.3" width="16" height="8.80" fill="#b2b2b2" stroke="#111" stroke-width="1.6"/>
<rect x="330.6" y="437.40000000000003" width="16" height="8.50" fill="#fff" stroke="#111" stroke-width="1.6"/>
<rect x="330.6" y="450.1" width="16" height="8.60" fill="#000" stroke="#111" stroke-width="1.6"/>
<text x="348.6" y="434"><tspan dy="0.00" font-size="11.05">p300</tspan><tspan class="sp" dy="-3.65" font-size="7.74">flox/flox</tspan><tspan dy="3.65" font-size="11.05"> (n=4)</tspan></text>
<text x="348.6" y="446.6"><tspan dy="0.00" font-size="11.05">CD19</tspan><tspan class="sp" dy="-3.65" font-size="7.74">+/Cre</tspan><tspan dy="3.65" font-size="11.05"> (n=3)</tspan></text>
<text x="348.6" y="459.4"><tspan dy="0.00" font-size="11.05">p300</tspan><tspan class="sp" dy="-3.65" font-size="7.74">flox/flox</tspan><tspan dy="3.65" font-size="11.05">;CD19</tspan><tspan class="sp" dy="-3.65" font-size="7.74">+/Cre</tspan><tspan dy="3.65" font-size="11.05"> (n=5)</tspan></text>
<path d="M322.5 482.15V646.50H491.25" stroke="#000" stroke-width="1.5" fill="none" stroke-linejoin="miter"/>
<path d="M319.3 646.30H322.5M319.3 631.45H322.5M319.3 616.60H322.5M319.3 601.75H322.5M319.3 586.90H322.5M319.3 572.05H322.5M319.3 557.20H322.5M319.3 542.35H322.5M319.3 527.50H322.5M319.3 512.65H322.5M319.3 497.80H322.5M319.3 482.95H322.5M349.8 646.5V649.8M406.3 646.5V649.8M462.6 646.5V649.8" stroke="#000" stroke-width="1.27" fill="none"/>
<text x="317.8" y="649.11" font-size="7.8" text-anchor="end" >0.0</text>
<text x="317.8" y="634.26" font-size="7.8" text-anchor="end" >2.5</text>
<text x="317.8" y="619.41" font-size="7.8" text-anchor="end" >5.0</text>
<text x="317.8" y="604.56" font-size="7.8" text-anchor="end" >7.5</text>
<text x="317.8" y="589.71" font-size="7.8" text-anchor="end" >10.0</text>
<text x="317.8" y="574.86" font-size="7.8" text-anchor="end" >12.5</text>
<text x="317.8" y="560.01" font-size="7.8" text-anchor="end" >15.0</text>
<text x="317.8" y="545.16" font-size="7.8" text-anchor="end" >17.5</text>
<text x="317.8" y="530.31" font-size="7.8" text-anchor="end" >20.0</text>
<text x="317.8" y="515.46" font-size="7.8" text-anchor="end" >22.5</text>
<text x="317.8" y="500.61" font-size="7.8" text-anchor="end" >25.0</text>
<text x="317.8" y="485.76" font-size="7.8" text-anchor="end" >27.5</text>
<path d="M334.70 616.05V615.30M331.60 615.30H337.80" stroke="#000" stroke-width="1.4" fill="none"/>
<rect x="329.93" y="616.77" width="9.55" height="29.73" fill="#b2b2b2" stroke="#000" stroke-width="1.45"/>
<path d="M349.95 616.05V615.80M346.85 615.80H353.05" stroke="#000" stroke-width="1.4" fill="none"/>
<rect x="344.93" y="616.77" width="10.05" height="29.73" fill="#fff" stroke="#000" stroke-width="1.45"/>
<path d="M365.32 626.05V624.05M362.22 624.05H368.43" stroke="#000" stroke-width="1.4" fill="none"/>
<rect x="360.43" y="626.77" width="9.80" height="19.73" fill="#000" stroke="#000" stroke-width="1.45"/>
<path d="M391.07 509.30V504.80M387.97 504.80H394.18" stroke="#000" stroke-width="1.4" fill="none"/>
<rect x="385.93" y="510.03" width="10.30" height="136.47" fill="#b2b2b2" stroke="#000" stroke-width="1.45"/>
<path d="M406.32 515.55V502.80M403.22 502.80H409.43" stroke="#000" stroke-width="1.4" fill="none"/>
<rect x="401.18" y="516.27" width="10.30" height="130.23" fill="#fff" stroke="#000" stroke-width="1.45"/>
<path d="M421.82 533.55V529.80M418.72 529.80H424.93" stroke="#000" stroke-width="1.4" fill="none"/>
<rect x="416.68" y="534.27" width="10.30" height="112.23" fill="#000" stroke="#000" stroke-width="1.45"/>
<path d="M447.32 494.05V487.80M444.22 487.80H450.43" stroke="#000" stroke-width="1.4" fill="none"/>
<rect x="442.18" y="494.78" width="10.30" height="151.72" fill="#b2b2b2" stroke="#000" stroke-width="1.45"/>
<path d="M462.57 504.30V490.30M459.47 490.30H465.68" stroke="#000" stroke-width="1.4" fill="none"/>
<rect x="457.43" y="505.03" width="10.30" height="141.47" fill="#fff" stroke="#000" stroke-width="1.45"/>
<path d="M478.07 521.55V519.05M474.97 519.05H481.18" stroke="#000" stroke-width="1.4" fill="none"/>
<rect x="472.93" y="522.27" width="10.30" height="124.23" fill="#000" stroke="#000" stroke-width="1.45"/>
<text x="349" y="657.5" text-anchor="middle"><tspan dy="0.00" font-size="8.45">IgM</tspan><tspan class="sp" dy="-3.63" font-size="6.59">hi</tspan><tspan dy="3.63" font-size="8.45">IgD</tspan><tspan class="sp" dy="-3.63" font-size="6.59">lo</tspan></text>
<text x="405.4" y="657.2" text-anchor="middle"><tspan dy="0.00" font-size="8.45">IgM</tspan><tspan class="sp" dy="-3.63" font-size="6.59">hi</tspan><tspan dy="3.63" font-size="8.45">IgD</tspan><tspan class="sp" dy="-3.63" font-size="6.59">hi</tspan></text>
<text x="461.5" y="657.2" text-anchor="middle"><tspan dy="0.00" font-size="8.45">IgM</tspan><tspan class="sp" dy="-3.63" font-size="6.59">lo</tspan><tspan dy="3.63" font-size="8.45">IgD</tspan><tspan class="sp" dy="-3.63" font-size="6.59">hi</tspan></text>
<text x="406.6" y="671.75" font-size="10.8" text-anchor="middle" >Spleen</text>
<text transform="translate(297.5 564) rotate(-90)" text-anchor="middle" font-size="10.55">Percentage (%)</text>
</svg>
</body></html>
